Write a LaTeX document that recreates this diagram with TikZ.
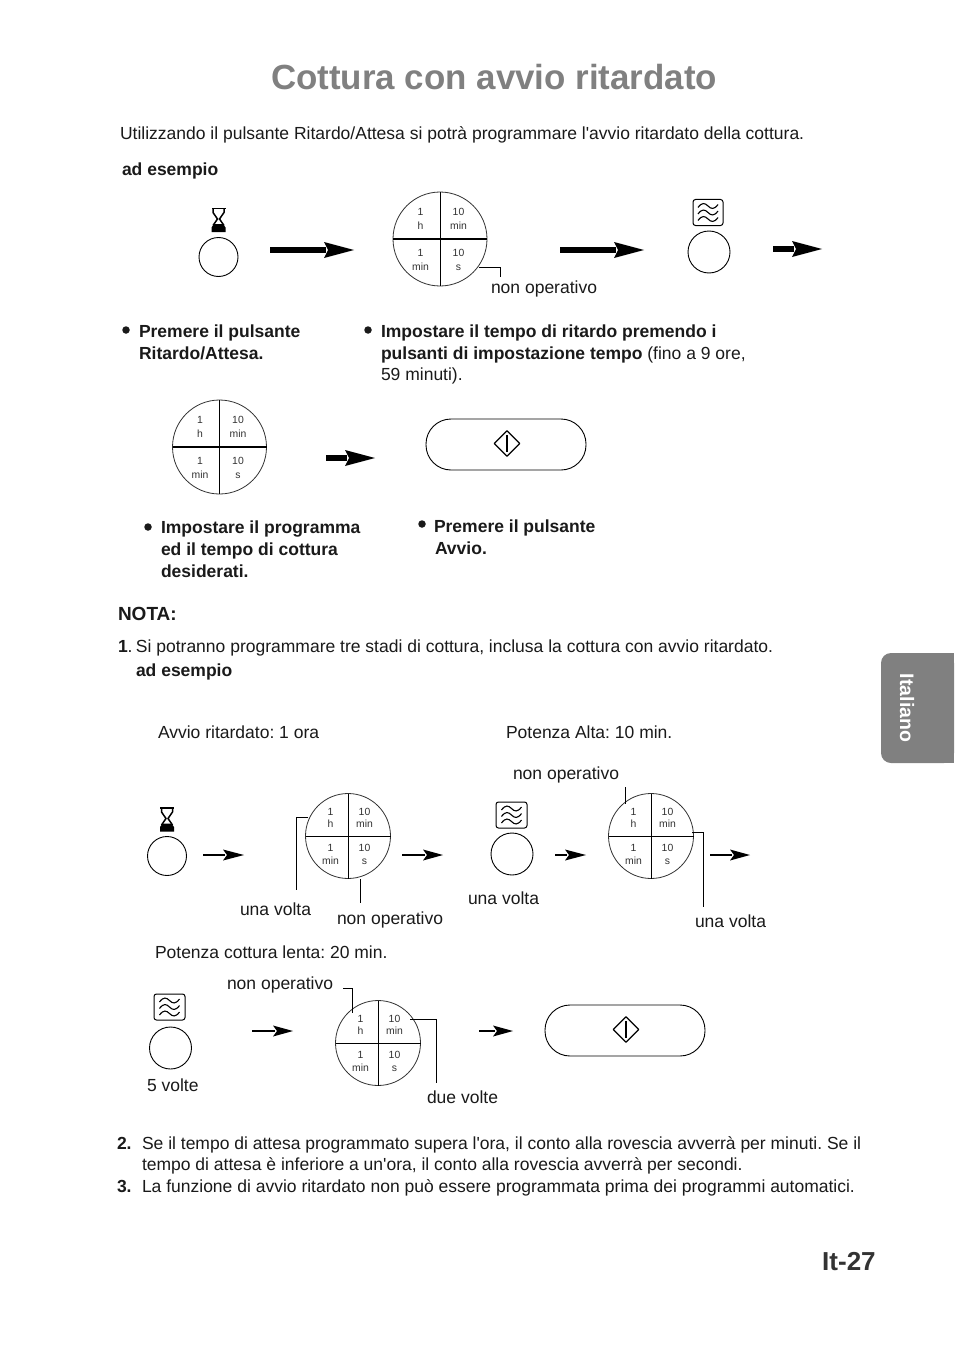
\documentclass[tikz,border=0pt]{standalone}
\usepackage{fontspec}
\setmainfont{Liberation Sans}
\definecolor{ink}{HTML}{1A1A1A}
\definecolor{titlegray}{HTML}{808080}
\definecolor{tabgray}{HTML}{808080}
\definecolor{dialink}{HTML}{333333}
\newcommand{\bodyf}{\fontsize{17.5}{20}\selectfont\frenchspacing}
\newcommand{\dialf}{\fontsize{10.4}{11}\selectfont}
\newcommand{\ap}{\textquotesingle}
\tikzset{
 tx/.style={anchor=base west,inner sep=0pt,outer sep=0pt,text=ink,font=\bodyf},
 txb/.style={tx,font=\bodyf\bfseries},
 bul/.style={circle,fill=ink,draw=none,minimum size=7.5pt,inner sep=0pt},
 btn/.style={circle,draw=black,line width=.9pt,inner sep=0pt,outer sep=0pt,minimum size=#1},
 dialc/.style={circle,draw=black!80,line width=.8pt,inner sep=0pt,outer sep=0pt,minimum size=#1},
 dl/.style={anchor=base,inner sep=0pt,outer sep=0pt,text=dialink,font=\dialf},
 leader/.style={draw=black,line width=.9pt},
 icon/.style={draw=black,line width=1pt,rounded corners=2.5pt,inner sep=0pt,outer sep=0pt,minimum width=#1,minimum height=26pt},
 startb/.style={draw=black,line width=.9pt,rounded corners=25pt,minimum width=160pt,minimum height=51pt,inner sep=0pt,outer sep=0pt},
}
\newcommand{\dialbig}[3]{%
 \node[dialc=94pt] (#1) at (#2,#3) {};
 \draw[line width=.9pt] (#1.north)--(#1.south);
 \draw[line width=1.5pt] (#1.west)--(#1.east);
 \node[dl] (#1a) at (#2-19.5,#3-23.3) {1};
 \node[dl] (#1b) at (#2-19.5,#3-9.5) {h};
 \node[dl] (#1c) at (#2+18.5,#3-23.3) {10};
 \node[dl] (#1d) at (#2+18.5,#3-9.5) {min};
 \node[dl] (#1e) at (#2-19.5,#3+17.7) {1};
 \node[dl] (#1f) at (#2-19.5,#3+31) {min};
 \node[dl] (#1g) at (#2+18.5,#3+17.7) {10};
 \node[dl] (#1h) at (#2+18.5,#3+31) {s};
}
\newcommand{\dialsm}[3]{%
 \node[dialc=85pt] (#1) at (#2,#3) {};
 \draw[line width=.9pt] (#1.north)--(#1.south);
 \draw[line width=.9pt] (#1.west)--(#1.east);
 \node[dl] (#1a) at (#2-17.5,#3-20.3) {1};
 \node[dl] (#1b) at (#2-17.5,#3-8.5) {h};
 \node[dl] (#1c) at (#2+16.5,#3-20.3) {10};
 \node[dl] (#1d) at (#2+16.5,#3-8.5) {min};
 \node[dl] (#1e) at (#2-17.5,#3+15.7) {1};
 \node[dl] (#1f) at (#2-17.5,#3+28.7) {min};
 \node[dl] (#1g) at (#2+16.5,#3+15.7) {10};
 \node[dl] (#1h) at (#2+16.5,#3+28.7) {s};
}
\newcommand{\barrow}[7]{%
 \coordinate (#1s) at (#2,#4);
 \coordinate (#1e) at (#3,#4);
 \draw[line width=#6pt] (#1s)--(#5+2,#4);
 \fill (#1e)--(#5,#4-#7)--(#5+4,#4)--(#5,#4+#7)--cycle;
}
\newcommand{\hourglass}[2]{%
 \begin{scope}[shift={(#1,#2)}]
  \fill (-7,0) rectangle (7,1.8);
  \draw[line width=1.5pt,line join=miter] (-5.5,1)--(-5.5,5)--(-1,11.5)--(-5.5,18) (5.5,1)--(5.5,5)--(1,11.5)--(5.5,18);
  \fill (-7,24.5)--(-7,20)--(-4.5,16.5)--(4.5,16.5)--(7,20)--(7,24.5)--cycle;
 \end{scope}}
\newcommand{\waves}[4]{%
 \node[icon=#4pt] (#1) at (#2,#3) {};
 \begin{scope}[shift={(#2,#3)},line width=1.1pt]
 \foreach \yy in {-6.5,0,6.5}{
  \draw (-10,\yy+1.5) .. controls (-6,\yy-4) and (-3,\yy-3) .. (0,\yy) .. controls (3,\yy+3) and (6,\yy+4) .. (10,\yy-1.5);
 }
 \end{scope}}
\newcommand{\startbtn}[3]{%
 \node[startb] (#1) at (#2,#3) {};
 \node[diamond,draw=black,line width=1.2pt,line join=round,minimum width=26pt,minimum height=26pt,inner sep=0pt] (#1d) at (#2+1,#3-1) {};
 \draw[line width=1.3pt,shorten >=5pt,shorten <=5pt] (#1d.north)--(#1d.south);
}
\usetikzlibrary{shapes.geometric}
\begin{document}
\begin{tikzpicture}[x=1pt,y=-1pt]
\useasboundingbox (0,0) rectangle (954,1351);
\fill[white] (0,0) rectangle (954,1351);
\node[anchor=base west,inner sep=0pt,text=titlegray,font=\fontsize{34.9}{40}\selectfont\bfseries] (title) at (271,90) {Cottura con avvio ritardato};
\node[tx] (intro) at (120,139.5) {Utilizzando il pulsante Ritardo/Attesa si potrà programmare l\ap avvio ritardato della cottura.};
\node[txb] (ex1) at (122,175.5) {ad esempio};
\hourglass{218.5}{207.5}
\node[btn=39pt] (b1) at (218.5,257) {};
\barrow{a1}{270}{354}{250}{324}{6}{8}
\dialbig{d1}{440}{239}
\coordinate (l1) at (500.5,277);
\coordinate (l1b) at (500.5,267);
\coordinate (l1a) at (478.5,267);
\draw[leader] (l1a)--(l1b)--(l1);
\node[tx] (t1) at (491,293) {non operativo};
\barrow{a2}{560}{644}{250}{614}{6}{8}
\waves{w1}{708}{212.5}{30}
\node[btn=42pt] (b2) at (709,252) {};
\barrow{a3}{773}{822}{249}{792}{6}{8}
\node[bul] (p1) at (126,330) {};
\node[txb] (p1a) at (139,337) {Premere il pulsante};
\node[txb] (p1b) at (139,359) {Ritardo/Attesa.};
\node[bul] (p2) at (368,330) {};
\node[txb] (p2a) at (381,337) {Impostare il tempo di ritardo premendo i};
\node[tx] (p2b) at (381,359) {\textbf{pulsanti di impostazione tempo} (fino a 9 ore,};
\node[tx] (p2c) at (381,380) {59 minuti).};
\dialbig{d2}{219.5}{447}
\barrow{a4}{326}{375}{458}{345}{6}{8}
\startbtn{s1}{506}{444.5}
\node[bul] (p3) at (148,527) {};
\node[txb] (p3a) at (161,533) {Impostare il programma};
\node[txb] (p3b) at (161,555) {ed il tempo di cottura};
\node[txb] (p3c) at (161,577) {desiderati.};
\node[bul] (p4) at (422,524) {};
\node[txb] (p4a) at (434,532.5) {Premere il pulsante};
\node[txb] (p4b) at (435,554.5) {Avvio.};
\node[tx,font=\fontsize{19}{20}\selectfont\bfseries] (nota) at (118,620.5) {NOTA:};
\node[tx] (n1) at (118,652) {\textbf{1}.\hspace{-1.5pt} Si potranno programmare tre stadi di cottura, inclusa la cottura con avvio ritardato.};
\node[txb] (ex2) at (136,676) {ad esempio};
\node[tx] (h1) at (158,738) {Avvio ritardato: 1 ora};
\node[tx] (h2) at (506,738) {Potenza Alta: 10 min.};
\node[tx] (t2) at (513,779) {non operativo};
\hourglass{167}{807}
\node[btn=39pt] (b3) at (167,856) {};
\barrow{a5}{203}{244}{855}{223}{2.2}{5.5}
\dialsm{d3}{348}{836}
\barrow{a6}{402}{443}{855}{423}{2.2}{5.5}
\coordinate (l2a) at (308,817);
\coordinate (l2b) at (296,817);
\coordinate (l2c) at (296,890);
\draw[leader] (l2a)--(l2b)--(l2c);
\coordinate (l3a) at (360,879);
\coordinate (l3b) at (360,903);
\draw[leader] (l3a)--(l3b);
\node[tx] (t3) at (240,915) {una volta};
\node[tx] (t4) at (337,924) {non operativo};
\waves{w2}{511.5}{815}{31}
\node[btn=42pt] (b4) at (512,854) {};
\node[tx] (t5) at (468,904) {una volta};
\barrow{a7}{555}{586}{855}{565}{2.2}{5.5}
\dialsm{d4}{651}{836}
\coordinate (l4a) at (625,787);
\coordinate (l4b) at (625,804);
\draw[leader] (l4a)--(l4b);
\coordinate (l5a) at (692,832);
\coordinate (l5b) at (703,832);
\coordinate (l5c) at (703,907);
\draw[leader] (l5a)--(l5b)--(l5c);
\barrow{a8}{710}{750}{855}{730}{2.2}{5.5}
\node[tx] (t6) at (695,927) {una volta};
\node[tx] (h3) at (155,958) {Potenza cottura lenta: 20 min.};
\node[tx] (t7) at (227,989) {non operativo};
\waves{w3}{169.5}{1007}{31}
\node[btn=42pt] (b5) at (170.5,1048) {};
\node[tx] (t8) at (147,1091) {5 volte};
\barrow{a9}{252}{293}{1031}{273}{2.2}{5.5}
\dialsm{d5}{378}{1043}
\coordinate (l6a) at (343,988);
\coordinate (l6b) at (352,988);
\coordinate (l6c) at (352,1013);
\draw[leader] (l6a)--(l6b)--(l6c);
\coordinate (l7a) at (410,1019);
\coordinate (l7b) at (436,1019);
\coordinate (l7c) at (436,1083);
\draw[leader] (l7a)--(l7b)--(l7c);
\node[tx] (t9) at (427,1103) {due volte};
\barrow{a10}{479}{513}{1031}{493}{2.2}{5.5}
\startbtn{s2}{625}{1030.5}
\node[txb] (n2) at (117,1149) {2.};
\node[tx] (n2a) at (142,1149) {Se il tempo di attesa programmato supera l\ap ora, il conto alla rovescia avverrà per minuti. Se il};
\node[tx] (n2b) at (142,1170) {tempo di attesa è inferiore a un\ap ora, il conto alla rovescia avverrà per secondi.};
\node[txb] (n3) at (117,1192) {3.};
\node[tx] (n3a) at (142,1192) {La funzione di avvio ritardato non può essere programmata prima dei programmi automatici.};
\fill[tabgray,rounded corners=10pt] (954,653)--(881,653)--(881,763)--(954,763)--cycle;
\fill[tabgray] (944,653) rectangle (954,763);
\node[rotate=-90,inner sep=0pt,text=white,font=\fontsize{19.5}{20}\selectfont\bfseries] (tab) at (907,708) {Italiano};
\node[anchor=base west,inner sep=0pt,text=black!80,font=\fontsize{26}{30}\selectfont\bfseries] (pg) at (822,1270) {It-27};
\end{tikzpicture}
\end{document}
